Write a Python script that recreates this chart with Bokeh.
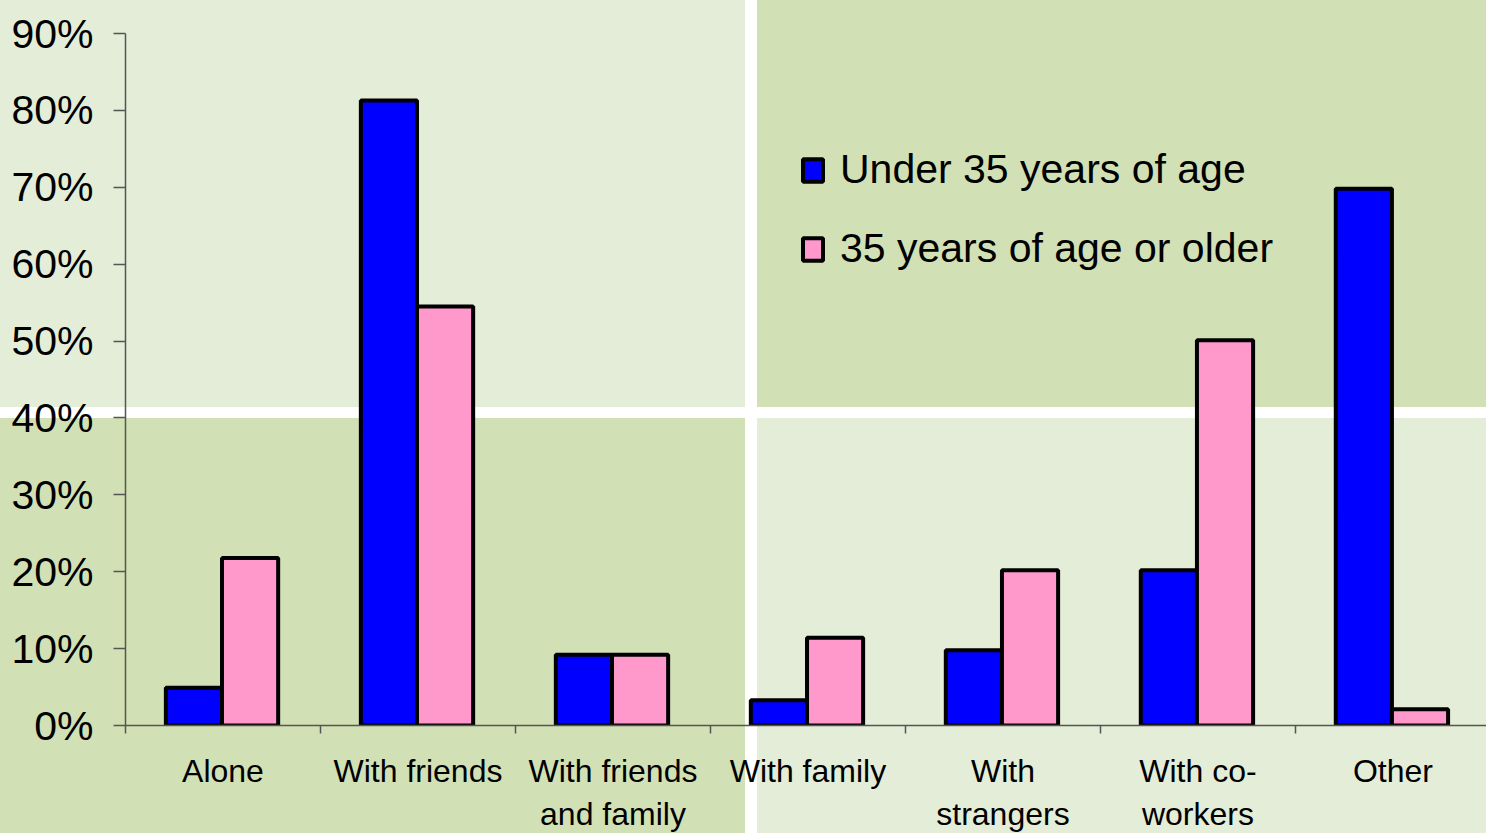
from bokeh.plotting import figure
from bokeh.models import (Range1d, FixedTicker, LinearAxis, ColumnDataSource,
                          Legend, LegendItem)
from bokeh.transform import dodge
from bokeh.embed import file_html
from bokeh.resources import INLINE

categories = ["Alone", "With friends", "With friends\nand family", "With family",
              "With\nstrangers", "With co-\nworkers", "Other"]
under35 = [4.9, 81.3, 9.2, 3.3, 9.8, 20.2, 69.8]
over35 = [21.8, 54.5, 9.2, 11.4, 20.2, 50.1, 2.1]
y_ticks = [0, 10, 20, 30, 40, 50, 60, 70, 80, 90]
y_tick_labels = ["0%", "10%", "20%", "30%", "40%", "50%", "60%", "70%", "80%", "90%"]
series_names = ["Under 35 years of age", "35 years of age or older"]

n = len(categories)
centers = [i + 0.5 for i in range(n)]
source = ColumnDataSource(dict(x=centers, under=under35, over=over35))

LIGHT = "#E4EDD7"
DARK = "#D2E0B5"

p = figure(frame_width=1361, frame_height=692,
           x_range=Range1d(0, n - 0.02), y_range=Range1d(0, 90),
           x_axis_type=None, y_axis_type=None,
           output_backend="svg", toolbar_location=None,
           min_border_left=125, min_border_top=33, min_border_right=0,
           min_border_bottom=0)
p.border_fill_color = None
p.background_fill_color = None
p.outline_line_color = None
p.xgrid.visible = False
p.ygrid.visible = False
p.styles = {
    "background": (
        "linear-gradient(#ffffff,#ffffff) 745px 0px / 12px 100% no-repeat, "
        "linear-gradient(#ffffff,#ffffff) 0px 407px / 100% 11px no-repeat, "
        f"linear-gradient({DARK},{DARK}) 757px 0px / 100% 407px no-repeat, "
        f"linear-gradient({DARK},{DARK}) 0px 418px / 745px 100% no-repeat, "
        f"{LIGHT}"
    )
}

bw = 0.288
r1 = p.vbar(x=dodge("x", -bw / 2 - 0.005, range=p.x_range), top="under", width=bw, bottom=0,
            source=source, fill_color="#0000FF", line_color="black", line_width=4)
r2 = p.vbar(x=dodge("x", bw / 2 - 0.005, range=p.x_range), top="over", width=bw, bottom=0,
            source=source, fill_color="#FF99CC", line_color="black", line_width=4)

yaxis = LinearAxis(ticker=FixedTicker(ticks=y_ticks, minor_ticks=[]))
yaxis.major_label_overrides = {t: l for t, l in zip(y_ticks, y_tick_labels)}
yaxis.axis_line_color = "#555555"
yaxis.axis_line_width = 1.5
yaxis.major_tick_line_color = "#555555"
yaxis.major_tick_line_width = 1.5
yaxis.major_tick_out = 12
yaxis.major_tick_in = 0
yaxis.major_label_standoff = 20
yaxis.major_label_text_font = "Liberation Sans"
yaxis.major_label_text_font_size = "41px"
yaxis.major_label_text_color = "black"
p.add_layout(yaxis, "left")

xaxis = LinearAxis(ticker=FixedTicker(ticks=centers, minor_ticks=list(range(n + 1))))
xaxis.major_label_overrides = {c: l for c, l in zip(centers, categories)}
xaxis.axis_line_color = "#555555"
xaxis.axis_line_width = 1.5
xaxis.major_tick_out = 0
xaxis.major_tick_in = 0
xaxis.minor_tick_out = 8
xaxis.minor_tick_in = 0
xaxis.minor_tick_line_color = "#555555"
xaxis.minor_tick_line_width = 1.5
xaxis.major_label_standoff = 19
xaxis.major_label_text_font = "Liberation Sans"
xaxis.major_label_text_font_size = "32px"
xaxis.major_label_text_line_height = 1.2
xaxis.major_label_text_color = "black"
p.add_layout(xaxis, "below")

legend = Legend(items=[LegendItem(label=series_names[0], renderers=[r1]),
                       LegendItem(label=series_names[1], renderers=[r2])],
                location=(675, 453), background_fill_alpha=0, border_line_color=None,
                padding=0, margin=0, spacing=32, glyph_width=25, glyph_height=28,
                label_height=46, label_standoff=15, label_text_font_size="41px",
                label_text_font="Liberation Sans", label_text_color="black")
p.add_layout(legend)

open("out.html", "w").write(file_html(p, INLINE))
